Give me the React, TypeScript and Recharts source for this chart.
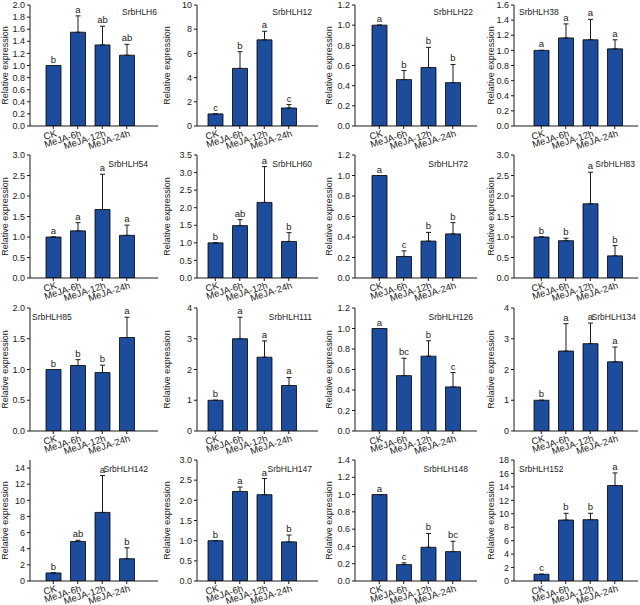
import React from 'react'
import { BarChart, Bar, XAxis, YAxis, ErrorBar, LabelList } from 'recharts'

// treatments on every x axis
const treatments = ['CK', 'MeJA-6h', 'MeJA-12h', 'MeJA-24h']

const genes = [
  'SrbHLH6', 'SrbHLH12', 'SrbHLH22', 'SrbHLH38',
  'SrbHLH54', 'SrbHLH60', 'SrbHLH72', 'SrbHLH83',
  'SrbHLH85', 'SrbHLH111', 'SrbHLH126', 'SrbHLH134',
  'SrbHLH142', 'SrbHLH147', 'SrbHLH148', 'SrbHLH152'
]

// relative expression (mean), one row per gene
const meanExpression = [
  [1.0, 1.55, 1.34, 1.17],
  [1.0, 4.76, 7.12, 1.49],
  [1.0, 0.46, 0.58, 0.43],
  [1.0, 1.165, 1.14, 1.02],
  [1.0, 1.15, 1.67, 1.04],
  [1.0, 1.49, 2.15, 1.04],
  [1.0, 0.21, 0.36, 0.43],
  [1.0, 0.91, 1.81, 0.54],
  [1.0, 1.065, 0.95, 1.52],
  [1.0, 3.0, 2.4, 1.48],
  [1.0, 0.54, 0.73, 0.43],
  [1.0, 2.6, 2.84, 2.25],
  [1.0, 4.9, 8.5, 2.76],
  [1.0, 2.22, 2.14, 0.97],
  [1.0, 0.19, 0.39, 0.34],
  [1.0, 9.07, 9.12, 14.2]
]

// upper error (SD), drawn upward only
const upperError = [
  [0, 0.27, 0.31, 0.18],
  [0, 1.38, 0.71, 0.28],
  [0, 0.09, 0.2, 0.18],
  [0, 0.185, 0.27, 0.12],
  [0, 0.2, 0.86, 0.25],
  [0, 0.17, 1.02, 0.25],
  [0, 0.055, 0.085, 0.11],
  [0, 0.06, 0.77, 0.25],
  [0, 0.095, 0.12, 0.33],
  [0, 0.7, 0.53, 0.26],
  [0, 0.17, 0.15, 0.14],
  [0, 0.89, 0.67, 0.48],
  [0, 0.15, 4.57, 1.36],
  [0, 0.11, 0.4, 0.17],
  [0, 0.02, 0.16, 0.12],
  [0, 1.0, 0.95, 1.88]
]

// significance letters
const letters = [
  ['b', 'a', 'ab', 'ab'],
  ['c', 'b', 'a', 'c'],
  ['a', 'b', 'b', 'b'],
  ['a', 'a', 'a', 'a'],
  ['a', 'a', 'a', 'a'],
  ['b', 'ab', 'a', 'b'],
  ['a', 'c', 'b', 'b'],
  ['b', 'b', 'a', 'b'],
  ['b', 'b', 'b', 'a'],
  ['b', 'a', 'a', 'a'],
  ['a', 'bc', 'b', 'c'],
  ['b', 'a', 'a', 'a'],
  ['b', 'ab', 'a', 'b'],
  ['b', 'a', 'a', 'b'],
  ['a', 'c', 'b', 'bc'],
  ['c', 'b', 'b', 'a']
]

// y axis range and tick step per gene
const axisMax = [2.0, 10, 1.2, 1.6, 3.0, 3.5, 1.2, 3.0, 2.0, 4, 1.2, 4, 15, 3.0, 1.4, 18]
const axisStep = [0.2, 2, 0.2, 0.2, 0.5, 0.5, 0.2, 0.5, 0.5, 1, 0.2, 1, 2, 0.5, 0.2, 2]

// grid layout
const colLeft = [0, 160, 320, 480]
const axisX = [30, 37, 35, 34]
const axisLen = [128, 121, 122, 124]
const catPad = [[11, 19], [6, 17], [12, 12], [15, 11]]
const yLabelX = [5, 7, 9, 11]
const plotTop = [5, 155, 308, 460]
const plotH = [121, 123, 123, 121]
const PANEL_W = 160
const PANEL_H = 166
const MT = 8

// where each gene name sits (panel coords)
const titleSpots: { anchor: 'start' | 'end'; x: number }[] = [
  { anchor: 'end', x: 157 }, { anchor: 'end', x: 152 }, { anchor: 'end', x: 153 }, { anchor: 'start', x: 39 },
  { anchor: 'end', x: 148 }, { anchor: 'end', x: 152 }, { anchor: 'end', x: 148 }, { anchor: 'end', x: 155 },
  { anchor: 'start', x: 32 }, { anchor: 'end', x: 152 }, { anchor: 'end', x: 153 }, { anchor: 'end', x: 156 },
  { anchor: 'end', x: 148 }, { anchor: 'end', x: 152 }, { anchor: 'end', x: 148 }, { anchor: 'start', x: 39 }
]

const BLUE = '#1d4c9c'
const INK = '#1a1a1a'
const FONT = '"Liberation Sans", Arial, sans-serif'

const makeTicks = (max: number, step: number) => {
  const out: number[] = []
  for (let v = 0; v <= max + 1e-9; v += step) out.push(Math.round(v * 10) / 10)
  return out
}

const XTick = (props: any) => {
  const { x, y, payload } = props
  const tx = x + 4
  const ty = y + 5
  return (
    <text
      x={tx}
      y={ty}
      transform={`rotate(-18, ${tx}, ${ty})`}
      textAnchor="end"
      fontSize={9.5}
      fontFamily={FONT}
      fill={INK}
    >
      {payload.value}
    </text>
  )
}

const Panel = ({ i }: { i: number }) => {
  const col = i % 4
  const row = Math.floor(i / 4)
  const data = treatments.map((t, k) => ({
    name: t,
    mean: meanExpression[i][k],
    err: [0, upperError[i][k]],
    up: upperError[i][k],
    letter: letters[i][k]
  }))
  const step = axisStep[i]
  const ticks = makeTicks(axisMax[i], step)
  const fmt = (v: number) => (step < 1 ? v.toFixed(1) : v.toFixed(0))
  const top = plotTop[row] - MT
  const ph = plotH[row]
  const rightMargin = PANEL_W - axisX[col] - axisLen[col]
  const title = titleSpots[i]
  const titleY = MT + (row === 0 ? 10 : 12)

  // letter above the error bar, placed through the bar's own pixel scale
  const renderLetter = (p: any) => {
    const vb = p.viewBox && p.viewBox.width != null ? p.viewBox : p
    const x = Number(vb.x)
    const w = Number(vb.width)
    const h = Math.abs(Number(vb.height))
    const yTop = Math.min(Number(vb.y), Number(vb.y) + Number(vb.height))
    const d = data[p.index]
    if (!d || !isFinite(x)) return null
    const pxPerUnit = h / d.mean
    const errTop = yTop - d.up * pxPerUnit
    return (
      <text
        key={`l-${p.index}`}
        x={x + w / 2}
        y={errTop - 3}
        textAnchor="middle"
        fontSize={9.5}
        fontFamily={FONT}
        fill={INK}
      >
        {d.letter}
      </text>
    )
  }

  return (
    <div style={{ position: 'absolute', left: colLeft[col], top, width: PANEL_W, height: PANEL_H }}>
      <BarChart
        width={PANEL_W}
        height={PANEL_H}
        data={data}
        margin={{ top: MT, right: rightMargin, bottom: 0, left: 0 }}
        barSize={15}
      >
        <XAxis
          dataKey="name"
          height={PANEL_H - MT - ph}
          padding={{ left: catPad[col][0], right: catPad[col][1] }}
          interval={0}
          tick={<XTick />}
          tickSize={3}
          axisLine={{ stroke: INK }}
          tickLine={{ stroke: INK }}
        />
        <YAxis
          width={axisX[col]}
          domain={[0, axisMax[i]]}
          ticks={ticks}
          tickFormatter={fmt}
          interval={0}
          allowDataOverflow
          tickSize={3}
          tick={{ fontSize: 9, fill: INK, fontFamily: FONT }}
          axisLine={{ stroke: INK }}
          tickLine={{ stroke: INK }}
        />
        <Bar dataKey="mean" fill={BLUE} stroke="#000" strokeWidth={0.8} isAnimationActive={false}>
          <ErrorBar dataKey="err" width={2.5} stroke={INK} strokeWidth={1} direction="y" isAnimationActive={false} />
          <LabelList dataKey="letter" content={renderLetter} />
        </Bar>
      </BarChart>
      <svg
        width={PANEL_W}
        height={PANEL_H}
        style={{ position: 'absolute', left: 0, top: 0, pointerEvents: 'none' }}
      >
        <text
          x={title.x}
          y={titleY}
          textAnchor={title.anchor}
          fontSize={8.5}
          fontFamily={FONT}
          fill={INK}
        >
          {genes[i]}
        </text>
        <text
          x={yLabelX[col]}
          y={MT + ph / 2}
          transform={`rotate(-90, ${yLabelX[col]}, ${MT + ph / 2})`}
          textAnchor="middle"
          dominantBaseline="central"
          fontSize={9}
          fontFamily={FONT}
          fill={INK}
        >
          Relative expression
        </text>
      </svg>
    </div>
  )
}

export default function App() {
  return (
    <div
      style={{
        position: 'absolute',
        left: 0,
        top: 0,
        width: 640,
        height: 605,
        overflow: 'hidden',
        background: '#fff'
      }}
    >
      {genes.map((g, i) => (
        <Panel key={g} i={i} />
      ))}
    </div>
  )
}
